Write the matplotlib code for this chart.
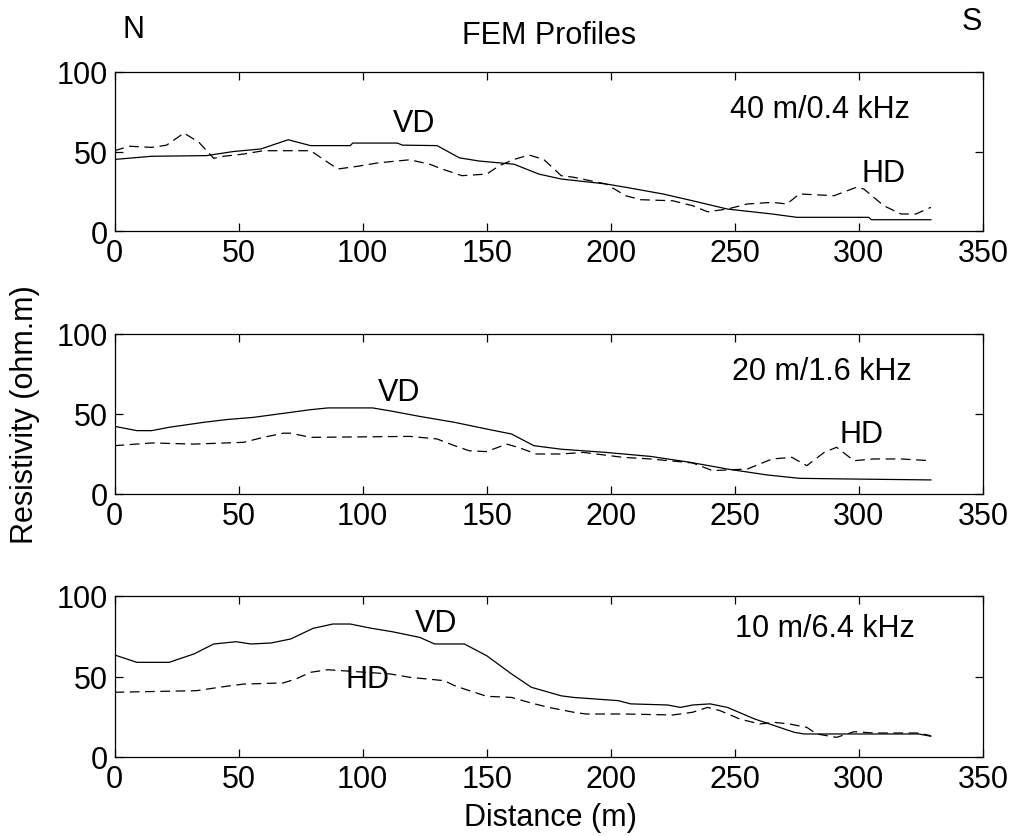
import numpy as np
import matplotlib
matplotlib.use("Agg")
import matplotlib.pyplot as plt

plt.rcParams['font.family'] = ['Liberation Sans', 'DejaVu Sans']
plt.rcParams['lines.scale_dashes'] = False

# --- panel 1: 40 m / 0.4 kHz ---
vd1_x = [0, 15, 37, 48, 59, 70, 79, 95, 96, 114, 116, 130, 139, 147, 161, 171, 180, 198, 206, 221, 233, 247, 265, 275, 304, 305, 329]
vd1_y = [45, 47, 47.4, 50, 51.6, 57.4, 53.7, 53.7, 55.3, 55.3, 54, 53.7, 46, 44, 42, 35.8, 32.7, 29.6, 27.5, 23.3, 19, 13.8, 10.7, 8.6, 8.6, 7.1, 7.1]
hd1_x = [0, 6, 15, 21, 28, 34, 40, 44, 52, 60, 79, 83, 90, 98, 106, 119, 127, 132, 140, 150, 155, 161, 167, 173,
         180, 185, 198, 206, 212, 225, 233, 239, 247, 255, 265, 271, 276, 290, 299, 302, 310, 317, 323, 329]
hd1_y = [50.5, 53.3, 52.6, 54, 61.6, 55.8, 45.7, 47, 48.4, 50.5, 50.5, 46.3, 39, 40.7, 42.8, 44.8, 42, 39, 34.8, 35.8, 41, 45, 47.8, 45,
         34.8, 33.8, 29.6, 22.2, 19.7, 19, 15.9, 12.1, 13.8, 17, 18, 17, 23.3, 22.2, 27.5, 26.4, 15.9, 10.7, 10.7, 14.9]

# --- panel 2: 20 m / 1.6 kHz ---
vd2_x = [0, 9, 15, 22, 36, 45, 56, 68, 79, 86, 104, 112, 123, 137, 150, 160, 169, 180, 198, 216, 232, 247, 263, 276, 295, 329]
vd2_y = [42.3, 39.6, 39.6, 41.7, 44.8, 46.5, 47.9, 50.4, 52.7, 53.8, 53.8, 51.7, 48.5, 44.8, 40.6, 37.5, 30.2, 28, 26, 23.5, 19.8, 15.6, 11.9, 9.8, 9.4, 8.8]
hd2_x = [0, 15, 32, 52, 60, 68, 71, 79, 119, 130, 137, 143, 150, 158, 163, 170, 180, 189, 205, 216, 233, 241,
         255, 265, 273, 279, 286, 291, 298, 306, 317, 329]
hd2_y = [30.2, 31.9, 31.2, 32.3, 35.4, 38, 38, 35.4, 36, 34.4, 30.2, 27, 26.5, 31.2, 29, 25, 25, 26, 22.9, 21.9, 19.4, 14.6,
         15.6, 21.9, 22.9, 17.7, 26, 29.2, 20.8, 21.9, 21.9, 20.8]

# --- panel 3: 10 m / 6.4 kHz ---
vd3_x = [0, 9, 22, 32, 40, 49, 55, 63, 71, 80, 88, 95, 103, 112, 123, 129, 141, 150, 160, 168, 180, 185, 203, 208,
         223, 228, 233, 240, 247, 258, 268, 274, 278, 324, 329]
vd3_y = [63.4, 58.8, 58.8, 64, 70.2, 71.6, 70.2, 70.8, 73.3, 79.9, 82.6, 82.6, 80.1, 77.8, 74.3, 70.2, 70.2, 62.9, 51.6, 43.3, 38, 37, 35, 33,
         32.3, 30.8, 32.3, 33, 30.8, 23.6, 18.4, 15.3, 14.3, 14.3, 12.9]
hd3_x = [0, 33, 45, 52, 68, 73, 79, 86, 111, 119, 133, 137, 143, 150, 160, 168, 175, 185, 190, 206, 225, 233, 239, 244,
         252, 260, 266, 272, 279, 283, 291, 298, 306, 324, 329]
hd3_y = [40.2, 41.2, 43.9, 45.3, 46, 48.4, 52.6, 54.2, 51.6, 49.5, 47.4, 44.3, 41.2, 37.7, 37, 33.5, 30.8, 27.8, 26.7, 26.7, 26.1, 27.8, 30.8, 28.8,
         23.6, 20.5, 21.5, 20.5, 18.4, 14.3, 12.2, 15.7, 14.9, 14.9, 13.2]

panels = [
    (vd1_x, vd1_y, hd1_x, hd1_y, "40 m/0.4 kHz", (248, 77), (112, 68), (301, 36.5)),
    (vd2_x, vd2_y, hd2_x, hd2_y, "20 m/1.6 kHz", (249, 77), (106, 64), (292, 37.5)),
    (vd3_x, vd3_y, hd3_x, hd3_y, "10 m/6.4 kHz", (250, 80), (121, 83.5), (93, 48.4)),
]

W, H = 1013, 837
fig = plt.figure(figsize=(W / 100, H / 100), dpi=100)

# axes boxes in pixels: (top, bottom)
boxes = [(73, 232), (335, 495), (597, 758)]
left_px, right_px = 114.5, 983

fs = 22
for (vx, vy, hx, hy, label, lpos, vdpos, hdpos), (top, bot) in zip(panels, boxes):
    ax = fig.add_axes([left_px / W, 1 - bot / H, (right_px - left_px) / W, (bot - top) / H])
    ax.plot(vx, vy, color="black", lw=0.9)
    ax.plot(hx, hy, color="black", lw=0.9, linestyle=(0, (7, 4)))
    ax.set_xlim(0, 350)
    ax.set_ylim(0, 100)
    ax.set_xticks(np.arange(0, 351, 50))
    ax.set_yticks([0, 50, 100])
    ax.tick_params(direction="in", length=6, width=0.9, top=True, right=True, labelsize=fs, pad=5)
    for sp in ax.spines.values():
        sp.set_linewidth(0.9)
    ax.text(lpos[0], lpos[1], label, fontsize=fs, ha="left", va="center")
    ax.text(vdpos[0], vdpos[1], "VD", fontsize=fs, ha="left", va="center")
    ax.text(hdpos[0], hdpos[1], "HD", fontsize=fs, ha="left", va="center")

fig.text(549 / W, 1 - 36 / H, "FEM Profiles", fontsize=fs, ha="center", va="center")
fig.text(133 / W, 1 - 30 / H, "N", fontsize=fs, ha="center", va="center")
fig.text(972 / W, 1 - 22 / H, "S", fontsize=fs, ha="center", va="center")
fig.text(25 / W, 1 - 415 / H, "Resistivity (ohm.m)", fontsize=fs, ha="center", va="center", rotation=90)
fig.text(550 / W, 1 - 818 / H, "Distance (m)", fontsize=fs, ha="center", va="center")

fig.savefig("out.png", dpi=100, facecolor="white")
